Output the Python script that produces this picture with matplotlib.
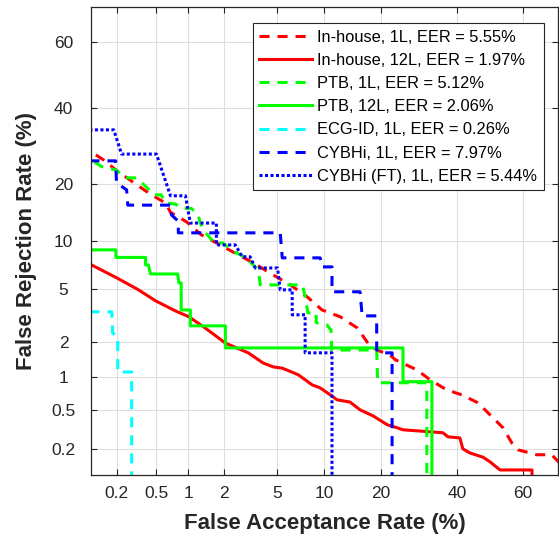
import numpy as np
import matplotlib
matplotlib.use('Agg')
import matplotlib.pyplot as plt
from statistics import NormalDist

# DET curves, values in percent (FAR, FRR)
inhouse_1l_far = [0.118, 0.144, 0.195, 0.32, 0.45, 0.616, 0.685, 0.96, 1.30, 1.74,
                  2.61, 3.39, 4.72, 6.17, 7.97, 9.75, 12.4, 15.3, 17.3, 19.1,
                  22.0, 23.2, 28.6, 32.2, 36.9, 41.4, 46.3, 50.6, 54.0, 56.7,
                  58.6, 64.1, 68.3, 72.0]
inhouse_1l_frr = [26.9, 25.6, 23.2, 19.9, 17.8, 16.2, 14.5, 12.9, 10.9, 9.8,
                  8.29, 7.4, 6.18, 5.30, 4.35, 3.52, 3.13, 2.57, 1.95, 1.71,
                  1.56, 1.42, 1.16, 0.946, 0.767, 0.689, 0.58, 0.425, 0.33, 0.23,
                  0.195, 0.173, 0.173, 0.12]

inhouse_12l_far = [0.1, 0.2, 0.335, 0.494, 0.763, 1.01, 1.40, 2.06, 3.11, 4.0,
                   4.72, 5.45, 6.95, 8.5, 9.5, 10.9, 11.9, 14.0, 15.8, 18.3,
                   21.4, 23.7, 25.1, 35.8, 37.3, 40.8, 41.7, 43.8, 47.8, 50.0,
                   52.2, 53.1, 62.7, 62.7]
inhouse_12l_frr = [7.29, 5.9, 4.90, 4.10, 3.46, 3.13, 2.57, 1.95, 1.62, 1.33,
                   1.23, 1.20, 1.05, 0.852, 0.80, 0.689, 0.619, 0.59, 0.497, 0.435,
                   0.354, 0.33, 0.315, 0.294, 0.267, 0.26, 0.20, 0.181, 0.163, 0.145,
                   0.125, 0.118, 0.118, 0.01]

ptb_1l_far = [0.114, 0.137, 0.195, 0.247, 0.32, 0.41, 0.47, 0.56, 0.616, 0.763,
              0.86, 1.06, 1.22, 1.27, 1.40, 1.67, 1.95, 2.47, 2.95, 3.39,
              3.69, 3.82, 7.4, 7.69, 8.0, 9.0, 9.0, 10.4, 11.0, 11.1,
              19.1, 19.3, 31.3, 31.3]
ptb_1l_frr = [25.1, 24.0, 23.2, 21.4, 21.4, 19.2, 17.8, 17.8, 16.2, 16.0,
              15.2, 15.2, 14.0, 12.7, 11.3, 9.8, 9.8, 8.6, 8.0, 7.18,
              6.57, 5.3, 5.3, 4.38, 3.35, 3.35, 2.82, 2.72, 2.48, 1.71,
              1.71, 0.89, 0.89, 0.01]

ptb_12l_far = [0.1, 0.195, 0.195, 0.394, 0.394, 0.42, 0.441, 0.80, 0.82, 0.86,
               0.86, 1.04, 1.04, 2.06, 2.06, 25.1, 25.1, 32.7, 32.7]
ptb_12l_frr = [8.9, 8.9, 8.0, 8.0, 7.18, 7.18, 6.27, 6.27, 5.47, 5.47,
               3.52, 3.52, 2.67, 2.67, 1.78, 1.78, 0.91, 0.91, 0.01]

ecgid_1l_far = [0.1, 0.176, 0.18, 0.204, 0.204, 0.285, 0.285]
ecgid_1l_frr = [3.41, 3.41, 2.35, 2.19, 1.11, 1.11, 0.01]

cybhi_1l_far = [0.1, 0.194, 0.198, 0.253, 0.26, 0.685, 0.70, 0.81, 0.81, 5.28,
                5.45, 9.51, 9.75, 11.14, 11.14, 15.8, 16.2, 19.1, 19.1, 19.8,
                22.5, 22.5]
cybhi_1l_frr = [25.4, 25.4, 20.3, 18.8, 15.8, 15.8, 14.05, 13.0, 11.2, 11.2,
                7.95, 7.95, 6.97, 6.97, 4.75, 4.75, 3.18, 3.18, 1.72, 1.62,
                1.62, 0.01]

cybhi_ft_far = [0.1, 0.185, 0.224, 0.504, 0.685, 0.94, 1.04, 1.74, 1.74, 2.47,
                2.80, 3.21, 3.51, 5.06, 5.28, 6.35, 6.35, 7.69, 7.69, 11.14, 11.14]
cybhi_ft_frr = [33.6, 33.6, 27.1, 27.1, 17.6, 17.6, 12.7, 12.7, 9.53, 9.53,
                8.07, 8.07, 6.86, 6.86, 4.9, 4.9, 3.24, 3.24, 1.62, 1.62, 0.01]

labels = ['In-house, 1L, EER = 5.55%', 'In-house, 12L, EER = 1.97%',
          'PTB, 1L, EER = 5.12%', 'PTB, 12L, EER = 2.06%',
          'ECG-ID, 1L, EER = 0.26%', 'CYBHi, 1L, EER = 7.97%',
          'CYBHi (FT), 1L, EER = 5.44%']
tick_vals = [0.2, 0.5, 1, 2, 5, 10, 20, 40, 60]
tick_text = ['0.2', '0.5', '1', '2', '5', '10', '20', '40', '60']

plt.rcParams['font.family'] = ['Liberation Sans', 'DejaVu Sans']

_nd = NormalDist()
_ppf = np.vectorize(_nd.inv_cdf, otypes=[float])
_cdf = np.vectorize(_nd.cdf, otypes=[float])


def to_dev(p):
    p = np.clip(np.asarray(p, dtype=float) / 100.0, 1e-9, 1 - 1e-9)
    return _ppf(p)


def from_dev(z):
    return _cdf(np.asarray(z, dtype=float)) * 100.0


fig = plt.figure(figsize=(5.59, 5.39), dpi=100)
ax = fig.add_axes([91.3 / 559, (539 - 474.5) / 539, 466.7 / 559, 467.8 / 539])
ax.set_xscale('function', functions=(to_dev, from_dev))
ax.set_yscale('function', functions=(to_dev, from_dev))

lw = 2.2
dash = (3.3, 2.6)
dot = (1.0, 0.8)
series = [
    (inhouse_1l_far, inhouse_1l_frr, '#ff0000', dash),
    (inhouse_12l_far, inhouse_12l_frr, '#ff0000', None),
    (ptb_1l_far, ptb_1l_frr, '#00ff00', dash),
    (ptb_12l_far, ptb_12l_frr, '#00ff00', None),
    (ecgid_1l_far, ecgid_1l_frr, '#00ffff', dash),
    (cybhi_1l_far, cybhi_1l_frr, '#0000ff', dash),
    (cybhi_ft_far, cybhi_ft_frr, '#0000ff', dot),
]
for (xs, ys, col, ds), lab in zip(series, labels):
    line, = ax.plot(xs, ys, color=col, lw=lw, label=lab)
    if ds is not None:
        line.set_dashes(ds)

ax.set_xlim(0.105, 70)
ax.set_ylim(0.105, 70)
ax.set_xticks(tick_vals)
ax.set_xticklabels(tick_text)
ax.set_yticks(tick_vals)
ax.set_yticklabels(tick_text)
ax.xaxis.set_minor_locator(matplotlib.ticker.NullLocator())
ax.yaxis.set_minor_locator(matplotlib.ticker.NullLocator())

ax.grid(True, color='#dfdfdf', lw=0.8)
ax.set_axisbelow(True)
ax.tick_params(direction='in', length=4, width=0.8, top=True, right=True,
               labelsize=12.5, colors='#262626')
ax.tick_params(axis='x', pad=8)
ax.tick_params(axis='y', pad=20)
for lab in ax.get_yticklabels():
    lab.set_horizontalalignment('center')
for sp in ax.spines.values():
    sp.set_color('#262626')
    sp.set_linewidth(0.9)

ax.set_xlabel('False Acceptance Rate (%)', fontsize=16, fontweight='bold', color='#262626')
ax.set_ylabel('False Rejection Rate (%)', fontsize=16, fontweight='bold', color='#262626')
ax.xaxis.set_label_coords(0.5, -0.082)
ax.yaxis.set_label_coords(-0.116, 0.5)

leg = ax.legend(loc='upper right', bbox_to_anchor=(0.970, 0.965), borderaxespad=0,
                fontsize=11.8, handlelength=3.2, handletextpad=0.35,
                labelspacing=0.5, fancybox=False, framealpha=1,
                borderpad=0.4)
leg.get_frame().set_edgecolor('#262626')
leg.get_frame().set_linewidth(0.8)

fig.savefig('out.png', dpi=100)
